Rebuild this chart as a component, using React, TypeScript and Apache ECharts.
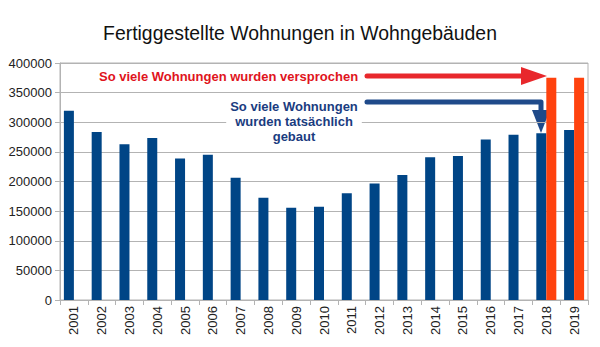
import React, { useEffect, useRef } from "react";
import * as echarts from "echarts";

const years = ["2001","2002","2003","2004","2005","2006","2007","2008","2009","2010","2011","2012","2013","2014","2015","2016","2017","2018","2019"];
const built = [319500, 283500, 263000, 273500, 239000, 245000, 206500, 172500, 155500, 157500, 180000, 196500, 211000, 241000, 243000, 271000, 279000, 281500, 287000];
const promised = [null, null, null, null, null, null, null, null, null, null, null, null, null, null, null, null, null, 375000, 375000];
const yTicks = { min: 0, max: 400000, interval: 50000 };

const FONT = "'Liberation Sans', Arial, sans-serif";
const BLUE = "#004586";
const ORANGE = "#ff420e";
const GRID = "#b3b3b3";

export default function App() {
  const ref = useRef<HTMLDivElement>(null);
  useEffect(() => {
    if (!ref.current) return;
    const chart = echarts.init(ref.current, undefined, { renderer: "svg" });
    chart.setOption({
      animation: false,
      backgroundColor: "#fff",
      title: {
        text: "Fertiggestellte Wohnungen in Wohngebäuden",
        left: "center",
        top: 18,
        textStyle: { fontFamily: FONT, fontSize: 19.4, fontWeight: "normal", color: "#111" },
      },
      grid: { left: 60, right: 12, top: 63, bottom: 47, show: true, borderColor: GRID, borderWidth: 1, containLabel: false },
      xAxis: {
        type: "category",
        data: years,
        axisLine: { lineStyle: { color: GRID } },
        axisTick: { show: true, length: 5, lineStyle: { color: GRID } },
        axisLabel: { rotate: 90, margin: 6, fontFamily: FONT, fontSize: 13, color: "#222" },
      },
      yAxis: {
        type: "value",
        min: yTicks.min,
        max: yTicks.max,
        interval: yTicks.interval,
        axisLine: { show: true, lineStyle: { color: GRID } },
        axisTick: { show: true, length: 5, lineStyle: { color: GRID } },
        splitLine: { lineStyle: { color: GRID } },
        axisLabel: { margin: 8, fontFamily: FONT, fontSize: 13, color: "#222", formatter: (v: number) => String(v) },
      },
      series: [
        { type: "bar", data: built, itemStyle: { color: BLUE }, barGap: "0%", barCategoryGap: "28%" },
        { type: "bar", data: promised, itemStyle: { color: ORANGE }, barGap: "0%", barCategoryGap: "28%" },
      ],
      graphic: [
        {
          type: "text",
          x: 99,
          y: 76,
          style: {
            text: "So viele Wohnungen wurden versprochen",
            font: `bold 13px ${FONT}`,
            fill: "#e0141c",
            textVerticalAlign: "middle",
          },
        },
        {
          type: "line",
          shape: { x1: 367, y1: 76, x2: 526, y2: 76 },
          style: { stroke: "#e8282c", lineWidth: 5, lineCap: "round" },
        },
        {
          type: "polygon",
          shape: { points: [[521, 67], [521, 85], [547, 76]] },
          style: { fill: "#e8282c" },
        },
        {
          type: "text",
          x: 294,
          y: 99,
          z: 10,
          style: {
            text: "So viele Wohnungen\nwurden tatsächlich\ngebaut",
            font: `bold 13px ${FONT}`,
            fill: "#1a3c80",
            align: "center",
            lineHeight: 15,
            backgroundColor: "#fff",
            padding: [0, 4],
          },
        },
        {
          type: "polyline",
          shape: { points: [[367, 102], [541, 102], [541, 113]] },
          style: { stroke: "#1f4a8a", lineWidth: 5, lineCap: "round", lineJoin: "round", fill: null },
        },
        {
          type: "polygon",
          shape: { points: [[532, 110], [550, 110], [541, 133]] },
          style: { fill: "#1f4a8a" },
        },
      ],
    });
    return () => chart.dispose();
  }, []);
  return <div ref={ref} style={{ width: 600, height: 347, position: "absolute", left: 0, top: 0 }} />;
}
